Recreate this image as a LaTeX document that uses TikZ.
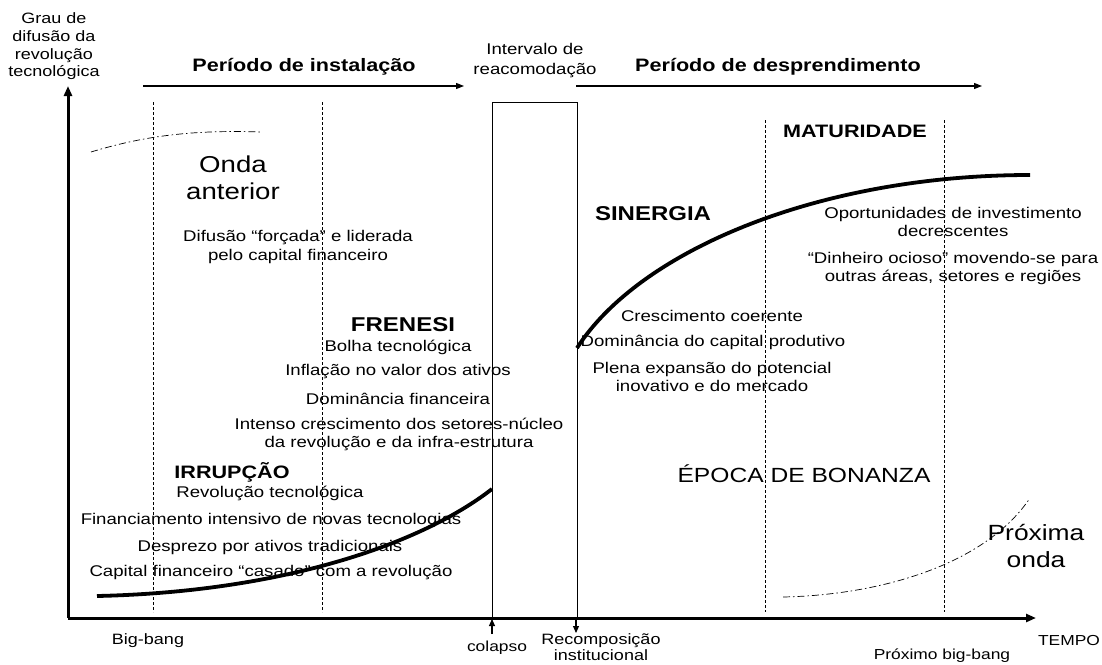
\documentclass[tikz,border=0pt]{standalone}
\usepackage{fontspec}
\setmainfont{Liberation Sans}[FakeStretch=1.2]
\usetikzlibrary{arrows.meta}
\newcommand{\fsz}[2]{\fontsize{#1}{#2}\selectfont}
\begin{document}
\begin{tikzpicture}[x=1pt,y=-1pt,
  txt/.style={font=\fsz{15.5}{18}, inner sep=0pt, align=center},
  small/.style={font=\fsz{14.5}{17.5}, inner sep=0pt, align=center},
  head/.style={font=\fsz{18}{21}\bfseries, inner sep=0pt},
  big/.style={font=\fsz{23}{26.5}, inner sep=0pt, align=center},
  axis/.style={line width=3pt, -{Triangle[length=10pt,width=8pt]}},
  toparrow/.style={line width=1.1pt, -{Triangle[length=8pt,width=6pt]}},
  marker/.style={line width=1.1pt, -{Triangle[length=7pt,width=6pt]}},
  curve/.style={line width=3.8pt},
  guide/.style={line width=0.7pt, dash pattern=on 3pt off 2pt},
  wave/.style={line width=0.7pt, dash pattern=on 7pt off 3pt on 1.5pt off 3pt},
  boxline/.style={line width=0.8pt}]
\useasboundingbox (0,0) rectangle (1102,664);
% coordinates
\coordinate (O) at (68,618);
\coordinate (Ytop) at (68,86);
\coordinate (Xend) at (1036,618);
\coordinate (i1) at (143,86);
\coordinate (i2) at (464,86);
\coordinate (d1) at (576,86);
\coordinate (d2) at (982,86);
\coordinate (bxA) at (492,102);
\coordinate (bxB) at (577,618);
\coordinate (colB) at (492,634);
\coordinate (colT) at (492,619);
\coordinate (recT) at (576,618);
\coordinate (recB) at (576,633);
% dashed guide lines
\draw[guide] (153,102) coordinate (g1a) -- (153,612) coordinate (g1b);
\draw[guide] (322,102) coordinate (g2a) -- (322,612) coordinate (g2b);
\draw[guide] (765,120) coordinate (g3a) -- (765,612) coordinate (g3b);
\draw[guide] (944,120) coordinate (g4a) -- (944,612) coordinate (g4b);
% box
\draw[boxline] (bxA) rectangle (bxB);
% waves
\draw[wave] (91,152) coordinate (w1a) .. controls (150,134) and (200,130) .. (262,132) coordinate (w1b);
\draw[wave] (783,597) coordinate (w2a) .. controls (880,595) and (985,565) .. (1030,498) coordinate (w2b);
% main curves
\draw[curve] (97,596) coordinate (c1a) .. controls (280,592) and (420,545) .. (492,489) coordinate (c1b);
\draw[curve] (577,348) coordinate (c2a) .. controls (640,250) and (820,175) .. (1030,175) coordinate (c2b);
% axes
\draw[axis] (O) -- (Ytop);
\draw[axis] (O) -- (Xend);
% top arrows
\draw[toparrow] (i1) -- (i2);
\draw[toparrow] (d1) -- (d2);
% event arrows
\draw[marker] (colB) -- (colT);
\draw[marker] (recT) -- (recB);
% labels
\node[small, font=\fsz{15}{17.7}] (ylab) at (54,46.5) {Grau de\\difusão da\\revolução\\tecnológica};
\node[head] (inst) at (304,67) {Período de instalação};
\node[txt, font=\fsz{15.5}{20}] (interv) at (535,61) {Intervalo de\\reacomodação};
\node[head] (desp) at (778,67) {Período de desprendimento};
\node[big] (onda) at (233,178) {Onda\\anterior};
\node[txt, font=\fsz{15.5}{19}] (difu) at (298,247) {Difusão “forçada” e liderada\\pelo capital financeiro};
\node[head, font=\fsz{20}{24}\bfseries] (fren) at (403,325) {FRENESI};
\node[txt] (bolha) at (398,347) {Bolha tecnológica};
\node[txt] (infla) at (398,372) {Inflação no valor dos ativos};
\node[txt] (domf) at (398,399) {Dominância financeira};
\node[txt] (inten) at (399,434) {Intenso crescimento dos setores-núcleo\\da revolução e da infra-estrutura};
\node[head] (irr) at (232,472) {IRRUPÇÃO};
\node[txt] (revt) at (270,493) {Revolução tecnológica};
\node[txt] (finan) at (271,520) {Financiamento intensivo de novas tecnologias};
\node[txt] (despr) at (270,547) {Desprezo por ativos tradicionais};
\node[txt] (capf) at (271,573) {Capital financeiro “casado” com a revolução};
\node[head, font=\fsz{20}{24}\bfseries] (sin) at (653,214) {SINERGIA};
\node[head] (mat) at (855,131) {MATURIDADE};
\node[txt] (oport) at (953,222) {Oportunidades de investimento\\decrescentes};
\node[txt] (dinh) at (953,268) {“Dinheiro ocioso” movendo-se para\\outras áreas, setores e regiões};
\node[txt] (cresc) at (712,316) {Crescimento coerente};
\node[txt] (domc) at (713,342) {Dominância do capital produtivo};
\node[txt] (plena) at (712,377) {Plena expansão do potencial\\inovativo e do mercado};
\node[txt, font=\fsz{20.5}{24}] (epoca) at (804,474) {ÉPOCA DE BONANZA};
\node[big, font=\fsz{22}{27}] (prox) at (1036,546) {Próxima\\onda};
\node[txt, font=\fsz{15}{18}] (bigb) at (148,641) {Big-bang};
\node[small] (colap) at (497,648) {colapso};
\node[txt, font=\fsz{15}{15.5}] (recomp) at (601,647) {Recomposição\\institucional};
\node[small] (tempo) at (1069,640) {TEMPO};
\node[small] (proxb) at (942,656) {Próximo big-bang};
\end{tikzpicture}
\end{document}
